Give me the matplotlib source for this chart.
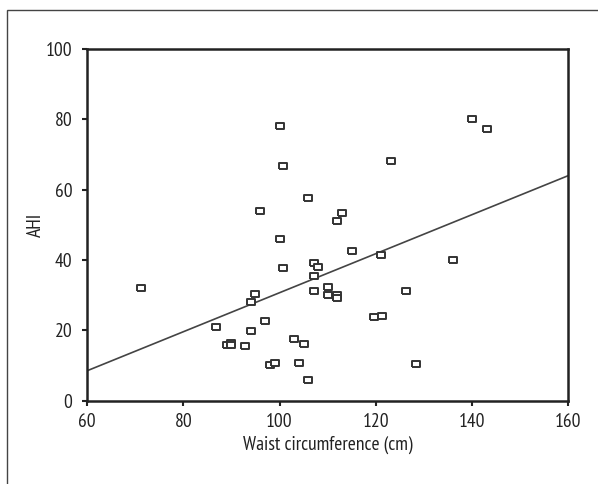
import matplotlib
matplotlib.use("Agg")
import matplotlib.pyplot as plt
from matplotlib.patches import Rectangle

plt.rcParams['font.family'] = ['PT Sans Narrow', 'DejaVu Sans']

waist = [71.2, 86.9, 89.0, 90.0, 90.0, 92.9, 94.0, 94.0, 94.9, 96.0, 97.0, 98.0, 99.0,
         100.2, 100.7, 100.2, 100.7, 103.0, 104.0, 105.1, 106.0, 106.0, 107.1, 108.0,
         107.1, 107.1, 110.1, 110.1, 112.0, 112.9, 112.0, 112.0, 115.0, 119.7, 121.2,
         121.0, 123.1, 126.3, 128.3, 136.1, 140.0, 143.1]
ahi = [32.1, 20.9, 15.8, 16.5, 15.8, 15.6, 19.8, 28.0, 30.3, 54.0, 22.7, 10.2, 10.8,
       78.1, 66.8, 46.0, 37.6, 17.5, 10.8, 16.1, 57.5, 6.0, 39.1, 38.1,
       35.5, 31.1, 32.2, 30.1, 51.0, 53.3, 30.1, 29.3, 42.7, 23.8, 24.1,
       41.3, 68.1, 31.1, 10.5, 39.9, 80.1, 77.3]
fit_x = [60, 160]
fit_y = [8.5, 64.0]
x_ticks = [60, 80, 100, 120, 140, 160]
y_ticks = [0, 20, 40, 60, 80, 100]

fig = plt.figure(figsize=(5.98, 4.84), dpi=100)
fig.patches.append(Rectangle((6.5/598, -0.1), 1.2, (484 - 9.5)/484 + 0.1,
                             transform=fig.transFigure, fill=False,
                             edgecolor='#444444', linewidth=1.0))
ax = fig.add_axes([87/598, 1 - 400.7/484, (568.3 - 87)/598, (400.7 - 49)/484])

rect_marker = [(-1.6, -1), (1.6, -1), (1.6, 1), (-1.6, 1), (-1.6, -1)]
ax.plot(waist, ahi, linestyle='none', marker=rect_marker, markersize=5.8,
        markerfacecolor='white', markeredgecolor='#333333', markeredgewidth=1.4)
ax.plot(fit_x, fit_y, color='#444444', linewidth=1.2, zorder=1)

ax.set_xlim(60, 160)
ax.set_ylim(0, 100)
ax.set_xticks(x_ticks)
ax.set_yticks(y_ticks)
for s in ax.spines.values():
    s.set_linewidth(1.8)
    s.set_color('#222222')
ax.tick_params(axis='both', direction='out', length=3.5, width=1.5, labelsize=14,
               colors='#222222')
ax.tick_params(axis='x', pad=5)
ax.tick_params(axis='y', pad=7)
ax.set_xlabel('Waist circumference (cm)', fontsize=14, color='#222222', labelpad=4)
ax.set_ylabel('AHI', fontsize=14, color='#222222', labelpad=0.5)

fig.savefig('out.png', dpi=100)
